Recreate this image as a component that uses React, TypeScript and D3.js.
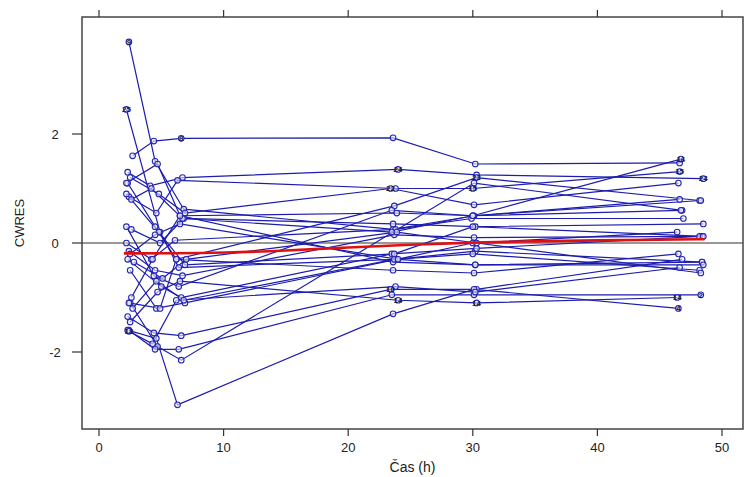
import React from "react";
import * as d3 from "d3";

// Conditional weighted residuals per subject over time
type Subject = { id: number; time: number[]; cwres: number[] };

const subjects: Subject[] = [
  { id: 9, time: [2.4, 4.5, 6.8, 23.6, 30.1, 46.6], cwres: [3.69, 1.5, 0.62, 0.25, 0.5, 0.8] },
  { id: 25, time: [2.2, 4.9, 6.4, 23.8, 30.2, 48.4], cwres: [2.45, 0.2, -0.45, -0.3, -0.15, -0.35] },
  { id: 8, time: [2.7, 4.4, 6.6, 23.6, 30.2, 46.6], cwres: [1.6, 1.87, 1.92, 1.93, 1.45, 1.47] },
  { id: 24, time: [2.3, 4.1, 6.7, 24.0, 30.3, 48.5], cwres: [1.3, 1.05, 1.2, 1.35, 1.25, 1.18] },
  { id: 15, time: [2.4, 4.6, 6.3, 23.8, 30.0, 46.6], cwres: [0.85, 0.55, 1.15, 1.0, 1.0, 1.31] },
  { id: 22, time: [2.5, 4.8, 6.9, 23.4, 30.1, 46.5], cwres: [1.2, 0.9, 0.55, 1.0, 0.7, 1.1] },
  { id: 23, time: [2.3, 4.5, 6.2, 23.7, 30.3, 48.2], cwres: [1.1, 0.3, -0.3, 0.68, 1.2, 0.78] },
  { id: 12, time: [2.5, 4.7, 6.6, 30.1, 46.8], cwres: [-1.1, -1.9, -2.15, 1.1, 0.6] },
  { id: 5, time: [2.2, 4.4, 6.4, 23.5, 30.0, 48.3], cwres: [0.3, -0.6, -0.8, 0.6, 0.5, 0.78] },
  { id: 3, time: [2.6, 4.9, 6.8, 23.6, 30.2, 48.5], cwres: [0.25, 0.0, 0.45, 0.35, 0.3, 0.35] },
  { id: 7, time: [2.2, 4.2, 6.1, 23.8, 29.9, 46.9], cwres: [0.0, -0.3, 0.05, 0.25, 0.45, 0.45] },
  { id: 11, time: [2.4, 4.5, 6.7, 23.7, 30.1, 48.4], cwres: [-0.15, -0.5, -0.6, 0.15, 0.1, 0.12] },
  { id: 13, time: [2.3, 5.0, 6.6, 23.5, 30.3, 48.2], cwres: [-0.3, -0.8, -1.0, -0.2, -0.1, 0.12] },
  { id: 17, time: [2.5, 4.6, 6.9, 23.9, 30.0, 46.4], cwres: [-0.5, -1.2, -1.1, -0.3, 0.0, 0.2] },
  { id: 19, time: [2.6, 4.3, 6.5, 23.6, 30.2, 48.4], cwres: [-1.0, -0.3, 0.5, -0.35, -0.4, -0.35] },
  { id: 20, time: [2.4, 4.9, 6.2, 23.6, 30.1, 46.5], cwres: [-1.1, -1.2, -0.3, -0.5, -0.55, -0.2] },
  { id: 6, time: [2.7, 4.6, 6.8, 23.7, 30.0, 48.2], cwres: [-1.2, -0.7, -1.05, -0.3, -0.2, -0.5] },
  { id: 10, time: [2.3, 4.4, 6.6, 23.4, 30.3, 46.8], cwres: [-1.35, -1.65, -1.7, -0.85, -0.85, -0.3] },
  { id: 14, time: [2.5, 4.7, 6.5, 24.0, 30.3, 46.4], cwres: [-1.45, -0.9, -0.7, -1.05, -1.1, -1.0] },
  { id: 2, time: [2.4, 4.5, 6.4, 23.5, 30.1, 48.3], cwres: [-1.6, -1.95, -1.95, -0.95, -0.95, -0.95] },
  { id: 4, time: [2.3, 4.6, 6.3, 23.6, 30.1, 46.5], cwres: [-1.6, -1.75, -2.97, -1.3, -0.85, -1.2] },
  { id: 21, time: [2.2, 4.8, 6.9, 23.7, 30.0, 48.5], cwres: [0.9, 0.2, -0.4, -0.2, 0.3, 0.12] },
  { id: 1, time: [2.6, 4.2, 6.7, 23.5, 30.0, 46.7], cwres: [0.8, 1.0, 0.45, 0.2, 0.5, 0.6] },
  { id: 27, time: [2.5, 4.5, 6.5, 24.0, 30.2, 48.5], cwres: [-0.2, 0.15, 0.35, -0.3, -0.4, -0.4] },
  { id: 28, time: [2.8, 5.1, 7.0, 23.9, 30.3, 48.3], cwres: [-0.35, -0.65, -0.3, 0.2, 0.0, -0.55] },
  { id: 18, time: [2.4, 4.3, 6.2, 23.8, 30.2, 46.6], cwres: [-1.62, -1.85, -1.05, -0.8, -0.9, -0.45] },
  { id: 16, time: [2.2, 4.7, 6.5, 23.9, 30.0, 46.7], cwres: [1.1, 1.45, 0.5, 0.55, 0.5, 1.54] },
];

// Points annotated with their subject ID: [subject id, observation index]
const idLabels: [number, number][] = [
  [9, 0], [25, 0], [8, 2], [24, 3], [22, 3], [23, 4], [15, 4],
  [16, 5], [15, 5], [24, 5], [14, 3], [14, 4], [14, 5], [2, 5],
  [4, 5], [18, 0], [10, 3],
];

// Smoothed trend of CWRES over time
const trendTime = [2, 6, 10, 15, 20, 25, 30, 35, 40, 45, 48.6];
const trendCwres = [-0.19, -0.19, -0.18, -0.14, -0.08, -0.03, 0.01, 0.03, 0.05, 0.06, 0.07];

const xTicks = [0, 10, 20, 30, 40, 50];
const yTicks = [-2, 0, 2];

const W = 745;
const H = 477;
const left = 82;
const right = 743;
const top = 17;
const bottom = 429;

export default function App() {
  const x = d3.scaleLinear().domain([0, 50]).range([99, 722]);
  const y = d3.scaleLinear().domain([-2, 2]).range([352, 134]);

  const line = d3
    .line<[number, number]>()
    .x((d) => x(d[0]))
    .y((d) => y(d[1]));

  const trend = d3
    .line<[number, number]>()
    .x((d) => x(d[0]))
    .y((d) => y(d[1]))
    .curve(d3.curveBasis);

  const font = "Arial, 'Liberation Sans', sans-serif";
  const lineColor = "#1c1cae";
  const byId = new Map(subjects.map((s) => [s.id, s]));

  return (
    <svg
      width={W}
      height={H}
      style={{ position: "absolute", left: 0, top: 0, background: "#fff" }}
      fontFamily={font}
    >
      <defs>
        <clipPath id="plotArea">
          <rect x={left} y={top} width={right - left} height={bottom - top} />
        </clipPath>
      </defs>

      <g clipPath="url(#plotArea)">
        {/* zero reference */}
        <line x1={left} x2={right} y1={y(0)} y2={y(0)} stroke="#333" strokeWidth={1.2} />

        {subjects.map((s) => (
          <path
            key={`l${s.id}`}
            d={line(s.time.map((t, i) => [t, s.cwres[i]] as [number, number])) || ""}
            fill="none"
            stroke={lineColor}
            strokeWidth={1.2}
          />
        ))}

        {subjects.map((s) =>
          s.time.map((t, i) => (
            <circle
              key={`p${s.id}-${i}`}
              cx={x(t)}
              cy={y(s.cwres[i])}
              r={2.8}
              fill="#eeeefa"
              fillOpacity={0.6}
              stroke="#2626b0"
              strokeWidth={1.1}
            />
          ))
        )}

        <path
          d={trend(trendTime.map((t, i) => [t, trendCwres[i]] as [number, number])) || ""}
          fill="none"
          stroke="#e01010"
          strokeWidth={2.6}
        />

        {idLabels.map(([id, i]) => {
          const s = byId.get(id)!;
          return (
            <text
              key={`t${id}-${i}`}
              x={x(s.time[i])}
              y={y(s.cwres[i])}
              dy="0.35em"
              textAnchor="middle"
              fontSize={8}
              fontWeight="bold"
              fill="#1a1a40"
            >
              {id}
            </text>
          );
        })}
      </g>

      {/* frame */}
      <rect
        x={left}
        y={top}
        width={right - left}
        height={bottom - top}
        fill="none"
        stroke="#444"
        strokeWidth={1.5}
      />

      {/* bottom and top ticks */}
      {xTicks.map((t) => (
        <g key={`x${t}`}>
          <line x1={x(t)} x2={x(t)} y1={bottom} y2={bottom + 7} stroke="#333" strokeWidth={1.2} />
          <line x1={x(t)} x2={x(t)} y1={top} y2={top - 7} stroke="#333" strokeWidth={1.2} />
          <text x={x(t)} y={bottom + 23} textAnchor="middle" fontSize={13} fill="#222">
            {t}
          </text>
        </g>
      ))}

      {/* left ticks */}
      {yTicks.map((t) => (
        <g key={`y${t}`}>
          <line x1={left - 10} x2={left} y1={y(t)} y2={y(t)} stroke="#333" strokeWidth={1.2} />
          <text x={left - 27} y={y(t)} dy="0.35em" textAnchor="middle" fontSize={13} fill="#222">
            {t}
          </text>
        </g>
      ))}

      <text
        transform={`translate(19,${(top + bottom) / 2}) rotate(-90)`}
        textAnchor="middle"
        dy="0.35em"
        fontSize={13}
        fill="#222"
      >
        CWRES
      </text>
      <text x={(left + right) / 2} y={H - 5} textAnchor="middle" fontSize={14} fill="#222">
        Čas (h)
      </text>
    </svg>
  );
}
